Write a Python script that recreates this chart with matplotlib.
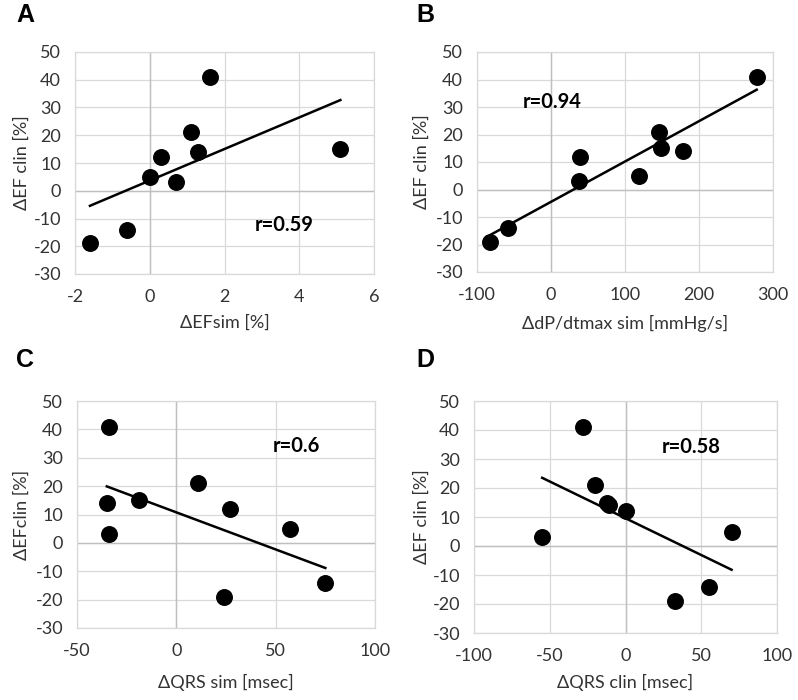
import matplotlib
matplotlib.use("Agg")
import matplotlib.pyplot as plt
import numpy as np

plt.rcParams['font.family'] = ['Lato', 'DejaVu Sans']
plt.rcParams['axes.unicode_minus'] = False

# panel A: dEF sim vs dEF clin
a_x = [-1.6, -0.6, 0.0, 0.3, 0.7, 1.1, 1.3, 1.6, 5.1]
a_y = [-19, -14, 5, 12, 3, 21, 14, 41, 15]
# panel B: dP/dtmax sim
b_x = [-82, -58, 38, 39, 119, 146, 149, 178, 278]
b_y = [-19, -14, 3, 12, 5, 21, 15, 14, 41]
# panel C: dQRS sim
c_x = [-35, -34, -34, -19, 11, 24, 27, 57, 75]
c_y = [14, 41, 3, 15, 21, -19, 12, 5, -14]
# panel D: dQRS clin
d_x = [-55, -28, -20, -12, -11, 0, 33, 55, 70]
d_y = [3, 41, 21, 15, 14, 12, -19, -14, 5]

panels = [
    dict(letter="A", x=a_x, y=a_y, xlim=(-2, 6), xticks=[-2, 0, 2, 4, 6],
         xlabel="ΔEFsim [%]", ylabel="ΔEF clin [%]", r="r=0.59", rpos=(2.82, -12.3),
         box=(75, 52, 374, 274), ylab_px=22, xlab_px=323, let_px=(16, 15)),
    dict(letter="B", x=b_x, y=b_y, xlim=(-100, 300), xticks=[-100, 0, 100, 200, 300],
         xlabel="ΔdP/dtmax sim [mmHg/s]", ylabel="ΔEF clin [%]", r="r=0.94", rpos=(-38, 31.8),
         box=(477, 52, 773, 272), ylab_px=422, xlab_px=323, let_px=(416, 15)),
    dict(letter="C", x=c_x, y=c_y, xlim=(-50, 100), xticks=[-50, 0, 50, 100],
         xlabel="ΔQRS sim [msec]", ylabel="ΔEFclin [%]", r="r=0.6", rpos=(48.7, 34.1),
         box=(77, 401, 375, 628), ylab_px=22, xlab_px=682, let_px=(16, 360)),
    dict(letter="D", x=d_x, y=d_y, xlim=(-100, 100), xticks=[-100, -50, 0, 50, 100],
         xlabel="ΔQRS clin [msec]", ylabel="ΔEF clin [%]", r="r=0.58", rpos=(24, 34.1),
         box=(474, 401, 777, 633), ylab_px=422, xlab_px=682, let_px=(416, 360)),
]

W, H = 798, 700
fig = plt.figure(figsize=(W / 100, H / 100), dpi=100)

for p in panels:
    l, t, r, b = p["box"]
    ax = fig.add_axes([l / W, 1 - b / H, (r - l) / W, (b - t) / H])
    ax.set_xlim(*p["xlim"])
    ax.set_ylim(-30, 50)
    ax.set_xticks(p["xticks"])
    ax.set_yticks(range(-30, 51, 10))
    ax.grid(True, color="#d9d9d9", lw=0.9)
    ax.set_axisbelow(True)
    for s in ax.spines.values():
        s.set_color("#d9d9d9")
        s.set_linewidth(0.9)
    ax.axhline(0, color="#bfbfbf", lw=1.0, zorder=1)
    ax.axvline(0, color="#bfbfbf", lw=1.0, zorder=1)
    ax.tick_params(length=0, labelsize=13, colors="#333333")
    ax.tick_params(axis="x", pad=11)
    ax.tick_params(axis="y", pad=10)
    x = np.array(p["x"], dtype=float)
    y = np.array(p["y"], dtype=float)
    m, c = np.polyfit(x, y, 1)
    xs = np.array([x.min(), x.max()])
    ax.plot(xs, m * xs + c, color="black", lw=1.8, zorder=2)
    ax.scatter(x, y, s=125, color="black", zorder=3)
    ax.text(p["rpos"][0], p["rpos"][1], p["r"], fontsize=14.5, fontweight="bold",
            ha="left", va="center")
    fig.text(p["ylab_px"] / W, 1 - (t + b) / 2 / H, p["ylabel"], rotation=90,
             fontsize=13, ha="center", va="center", color="#333333")
    fig.text((l + r) / 2 / W, 1 - p["xlab_px"] / H, p["xlabel"],
             fontsize=13, ha="center", va="center", color="#333333")
    fig.text(p["let_px"][0] / W, 1 - p["let_px"][1] / H, p["letter"],
             fontsize=18, fontweight="bold", family="Liberation Sans",
             ha="left", va="center")

fig.savefig("out.png", dpi=100)
